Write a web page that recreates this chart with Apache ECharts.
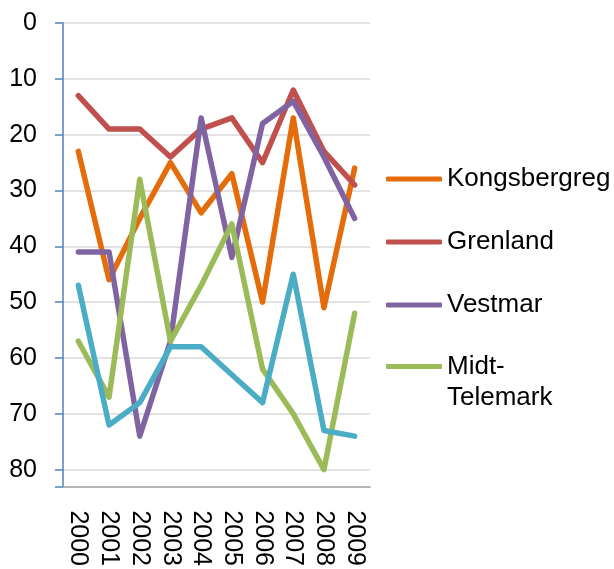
<!DOCTYPE html>
<html>
<head>
<meta charset="utf-8">
<script src="https://cdn.jsdelivr.net/npm/echarts@6/dist/echarts.min.js"></script>
<style>
    html, body { margin: 0; padding: 0; background: #fff; }
    #chart { width: 614px; height: 569px; }
</style>
</head>
<body>
<div id="chart"></div>
<script>
var years = ['2000', '2001', '2002', '2003', '2004', '2005', '2006', '2007', '2008', '2009'];
var kongsberg = [23, 46, 35, 25, 34, 27, 50, 17, 51, 26];
var grenland = [13, 19, 19, 24, 19, 17, 25, 12, 23, 29];
var vestmar = [41, 41, 74, 57, 17, 42, 18, 14, 24, 35];
var midtTelemark = [57, 67, 28, 57, 47, 36, 62, 70, 80, 52];
var vestTelemark = [47, 72, 68, 58, 58, 63, 68, 45, 73, 74];  // ingen legend i originalen
var yTicks = [0, 10, 20, 30, 40, 50, 60, 70, 80];

var colors = ['#E46C0A', '#C0504D', '#8064A2', '#9BBB59', '#4BACC6'];

var myChart = echarts.init(document.getElementById('chart'));

function lineSeries (name, data) {
    return {
        name: name,
        type: 'line',
        symbol: 'none',
        data: data,
        lineStyle: { width: 5.5, cap: 'round', join: 'round' }
    };
}

// felles legend-oppsett
var legendBase = {
    orient: 'vertical',
    left: 381,
    icon: 'roundRect',
    itemWidth: 56,
    itemHeight: 5,
    textStyle: { fontSize: 26, color: '#000', fontFamily: 'Liberation Sans' }
};

var option = {
    animation: false,
    color: colors,
    textStyle: { fontFamily: 'Liberation Sans', color: '#000' },
    grid: {
        left: 63,
        right: 244,
        top: 23,
        bottom: 82
    },
    legend: [
        Object.assign({}, legendBase, {
            top: 161,
            itemGap: 37,
            data: ['Kongsbergreg', 'Grenland', 'Vestmar']
        }),
        Object.assign({}, legendBase, {
            top: 315,
            data: ['Midt-Telemark'],
            textStyle: { fontSize: 26, lineHeight: 31, color: '#000', fontFamily: 'Liberation Sans' },
            // tom første linje så "Midt-" står på linje med streken
            formatter: function () {
                return ' \nMidt-\nTelemark';
            }
        })
    ],
    xAxis: {
        type: 'category',
        data: years,
        boundaryGap: true,
        axisLine: { onZero: false, lineStyle: { color: '#A6A6A6', width: 1.5 } },
        axisTick: { length: 7, interval: 0, lineStyle: { color: '#A6A6A6', width: 1.5 } },
        axisLabel: {
            interval: 0,
            rotate: -90,
            margin: 24,
            fontSize: 25,
            color: '#000',
            fontFamily: 'Liberation Sans'
        }
    },
    yAxis: {
        type: 'value',
        inverse: true,
        min: 0,
        max: 83,
        interval: 10,
        axisLine: { show: true, lineStyle: { color: '#4F81BD', width: 1.5 } },
        axisTick: { show: true, length: 8, lineStyle: { color: '#4F81BD', width: 1.5 } },
        splitLine: { lineStyle: { color: '#D9D9D9', width: 1.5 } },
        axisLabel: {
            margin: 26,
            fontSize: 25,
            color: '#000',
            fontFamily: 'Liberation Sans',
            formatter: function (v) {
                return yTicks.indexOf(v) >= 0 ? String(v) : '';
            }
        }
    },
    series: [
        lineSeries('Kongsbergreg', kongsberg),
        lineSeries('Grenland', grenland),
        lineSeries('Vestmar', vestmar),
        lineSeries('Midt-Telemark', midtTelemark),
        lineSeries('Vest-Telemark', vestTelemark)
    ]
};

myChart.setOption(option);
</script>
</body>
</html>
